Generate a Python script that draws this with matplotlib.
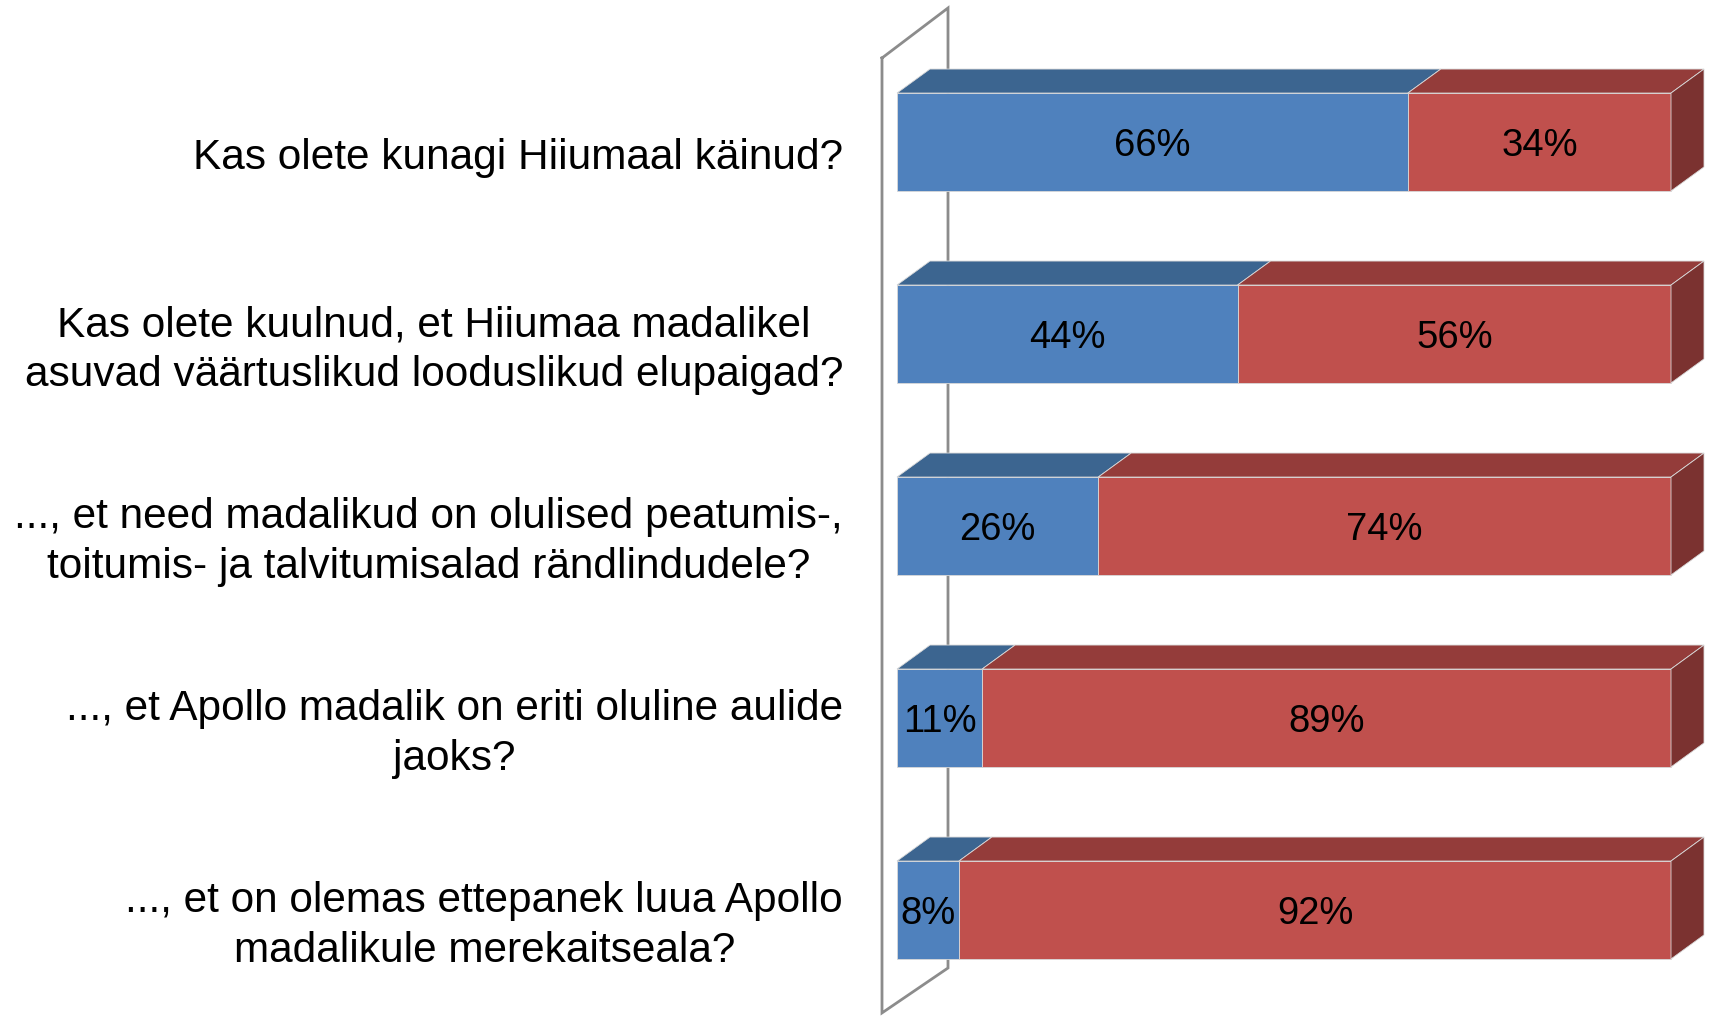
import matplotlib
matplotlib.use("Agg")
import matplotlib.pyplot as plt

# survey questions (top to bottom) and answer shares
questions = [
    "Kas olete kunagi Hiiumaal käinud?",
    "Kas olete kuulnud, et Hiiumaa madalikel\nasuvad väärtuslikud looduslikud elupaigad?",
    "..., et need madalikud on olulised peatumis-,\ntoitumis- ja talvitumisalad rändlindudele?",
    "..., et Apollo madalik on eriti oluline aulide\njaoks?",
    "..., et on olemas ettepanek luua Apollo\nmadalikule merekaitseala?",
]
yes_pct = [66, 44, 26, 11, 8]
no_pct = [34, 56, 74, 89, 92]

# face colours: front, top, side
blue = ("#4f81bd", "#3c6590", "#345a80")
red = ("#c0504d", "#943c3a", "#7b3230")

plt.rcParams["font.family"] = ["Liberation Sans", "DejaVu Sans"]

fig = plt.figure(figsize=(17.1, 10.17), dpi=100)
ax = fig.add_axes([0, 0, 1, 1])
px = 7.74  # pixels per percent
ax.set_xlim(-897 / px, (1710 - 897) / px)
ax.set_ylim((1017 - 142) / 192, -142 / 192)
ax.axis("off")

# 3d depth offset in data units
dx = 33 / px
dy = -24 / 192
h = 0.51

# back wall
wx0, wx1 = -15 / px, 51 / px
wall_x = [wx0, wx1, wx1, wx0, wx0]
wall_y = [-0.4375, -0.698, 4.302, 4.536, -0.4375]
ax.plot(wall_x, wall_y, color="#8c8c8c", lw=2, zorder=1, solid_joinstyle="miter")


def box(x0, x1, yc, cols, side=False):
    top, bot = yc - h / 2, yc + h / 2
    ax.fill([x0, x1, x1, x0], [top, top, bot, bot], color=cols[0], zorder=3,
            ec="#d9d9d9", lw=0.6)
    ax.fill([x0, x1, x1 + dx, x0 + dx], [top, top, top + dy, top + dy],
            color=cols[1], zorder=3, ec="#d9d9d9", lw=0.6)
    if side:
        ax.fill([x1, x1 + dx, x1 + dx, x1], [top, top + dy, bot + dy, bot],
                color=cols[2], zorder=3, ec="#d9d9d9", lw=0.6)


for i, q in enumerate(questions):
    y = yes_pct[i]
    n = no_pct[i]
    box(0, y, i, blue)
    box(y, y + n, i, red, side=True)
    ax.text(y / 2, i + 0.02, f"{y}%", ha="center", va="center", fontsize=27.5, zorder=4)
    ax.text(y + n / 2, i + 0.02, f"{n}%", ha="center", va="center", fontsize=27.5, zorder=4)
    ax.text(-54 / px, i + 0.085, q, ha="right", va="center", multialignment="center",
            fontsize=30.5, linespacing=1.32)

fig.savefig("out.png", dpi=100)
